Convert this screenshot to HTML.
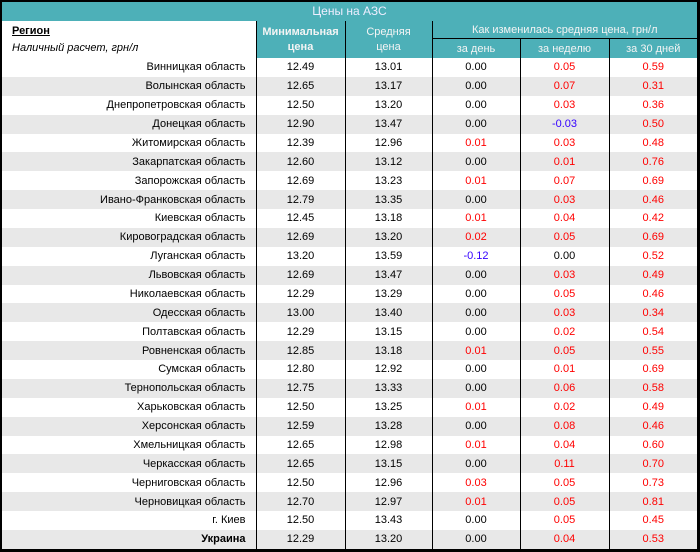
<!DOCTYPE html>
<html><head><meta charset="utf-8"><style>
body{margin:0;background:#000;width:700px;height:552px;overflow:hidden;font-family:"Liberation Sans",Arial,sans-serif;font-size:11px}
#w{position:absolute;left:2px;top:2px;width:695px;height:546px;background:#fff}
table{border-collapse:collapse;table-layout:fixed;width:695px}
td{padding:0;text-align:center;border-left:1px solid #000;height:18.88px;line-height:18px;color:#000}
td.r{text-align:right;padding-right:10px;border-left:none}
tr.g td{background:#e8e8e8}
.t{height:19px;background:#4db0b8;color:#eef;text-align:center;font-size:12px;line-height:19px}
th{background:#4db0b8;color:#f4f4f4;font-weight:bold;font-size:11px;border-left:1px solid #000;padding:0}
th.n{font-weight:normal}
.p{color:#f00}.m{color:#3300ff}
</style></head><body><div id="w">
<div class="t">Цены на АЗС</div>
<table>
<colgroup><col style="width:254px"><col style="width:89px"><col style="width:87px"><col style="width:88px"><col style="width:89px"><col style="width:88px"></colgroup>
<tr><th rowspan="2" style="height:37px;background:#fff;color:#000;text-align:left;padding-left:10px;border-left:none;font-weight:normal;line-height:17px"><b style="text-decoration:underline">Регион</b><br><i>Наличный расчет, грн/л</i></th><th rowspan="2" style="line-height:15px">Минимальная<br>цена</th><th rowspan="2" class="n" style="line-height:15px">Средняя<br>цена</th><th colspan="3" class="n" style="height:17px;border-bottom:1px solid #000">Как изменилась средняя цена, грн/л</th></tr>
<tr><th class="n" style="height:19px">за день</th><th class="n">за неделю</th><th class="n">за 30 дней</th></tr>
<tr><td class="r">Винницкая область</td><td>12.49</td><td>13.01</td><td>0.00</td><td class="p">0.05</td><td class="p">0.59</td></tr>
<tr class="g"><td class="r">Волынская область</td><td>12.65</td><td>13.17</td><td>0.00</td><td class="p">0.07</td><td class="p">0.31</td></tr>
<tr><td class="r">Днепропетровская область</td><td>12.50</td><td>13.20</td><td>0.00</td><td class="p">0.03</td><td class="p">0.36</td></tr>
<tr class="g"><td class="r">Донецкая область</td><td>12.90</td><td>13.47</td><td>0.00</td><td class="m">-0.03</td><td class="p">0.50</td></tr>
<tr><td class="r">Житомирская область</td><td>12.39</td><td>12.96</td><td class="p">0.01</td><td class="p">0.03</td><td class="p">0.48</td></tr>
<tr class="g"><td class="r">Закарпатская область</td><td>12.60</td><td>13.12</td><td>0.00</td><td class="p">0.01</td><td class="p">0.76</td></tr>
<tr><td class="r">Запорожская область</td><td>12.69</td><td>13.23</td><td class="p">0.01</td><td class="p">0.07</td><td class="p">0.69</td></tr>
<tr class="g"><td class="r">Ивано-Франковская область</td><td>12.79</td><td>13.35</td><td>0.00</td><td class="p">0.03</td><td class="p">0.46</td></tr>
<tr><td class="r">Киевская область</td><td>12.45</td><td>13.18</td><td class="p">0.01</td><td class="p">0.04</td><td class="p">0.42</td></tr>
<tr class="g"><td class="r">Кировоградская область</td><td>12.69</td><td>13.20</td><td class="p">0.02</td><td class="p">0.05</td><td class="p">0.69</td></tr>
<tr><td class="r">Луганская область</td><td>13.20</td><td>13.59</td><td class="m">-0.12</td><td>0.00</td><td class="p">0.52</td></tr>
<tr class="g"><td class="r">Львовская область</td><td>12.69</td><td>13.47</td><td>0.00</td><td class="p">0.03</td><td class="p">0.49</td></tr>
<tr><td class="r">Николаевская область</td><td>12.29</td><td>13.29</td><td>0.00</td><td class="p">0.05</td><td class="p">0.46</td></tr>
<tr class="g"><td class="r">Одесская область</td><td>13.00</td><td>13.40</td><td>0.00</td><td class="p">0.03</td><td class="p">0.34</td></tr>
<tr><td class="r">Полтавская область</td><td>12.29</td><td>13.15</td><td>0.00</td><td class="p">0.02</td><td class="p">0.54</td></tr>
<tr class="g"><td class="r">Ровненская область</td><td>12.85</td><td>13.18</td><td class="p">0.01</td><td class="p">0.05</td><td class="p">0.55</td></tr>
<tr><td class="r">Сумская область</td><td>12.80</td><td>12.92</td><td>0.00</td><td class="p">0.01</td><td class="p">0.69</td></tr>
<tr class="g"><td class="r">Тернопольская область</td><td>12.75</td><td>13.33</td><td>0.00</td><td class="p">0.06</td><td class="p">0.58</td></tr>
<tr><td class="r">Харьковская область</td><td>12.50</td><td>13.25</td><td class="p">0.01</td><td class="p">0.02</td><td class="p">0.49</td></tr>
<tr class="g"><td class="r">Херсонская область</td><td>12.59</td><td>13.28</td><td>0.00</td><td class="p">0.08</td><td class="p">0.46</td></tr>
<tr><td class="r">Хмельницкая область</td><td>12.65</td><td>12.98</td><td class="p">0.01</td><td class="p">0.04</td><td class="p">0.60</td></tr>
<tr class="g"><td class="r">Черкасская область</td><td>12.65</td><td>13.15</td><td>0.00</td><td class="p">0.11</td><td class="p">0.70</td></tr>
<tr><td class="r">Черниговская область</td><td>12.50</td><td>12.96</td><td class="p">0.03</td><td class="p">0.05</td><td class="p">0.73</td></tr>
<tr class="g"><td class="r">Черновицкая область</td><td>12.70</td><td>12.97</td><td class="p">0.01</td><td class="p">0.05</td><td class="p">0.81</td></tr>
<tr><td class="r">г. Киев</td><td>12.50</td><td>13.43</td><td>0.00</td><td class="p">0.05</td><td class="p">0.45</td></tr>
<tr class="g"><td class="r"><b>Украина</b></td><td>12.29</td><td>13.20</td><td>0.00</td><td class="p">0.04</td><td class="p">0.53</td></tr>
</table></div></body></html>
